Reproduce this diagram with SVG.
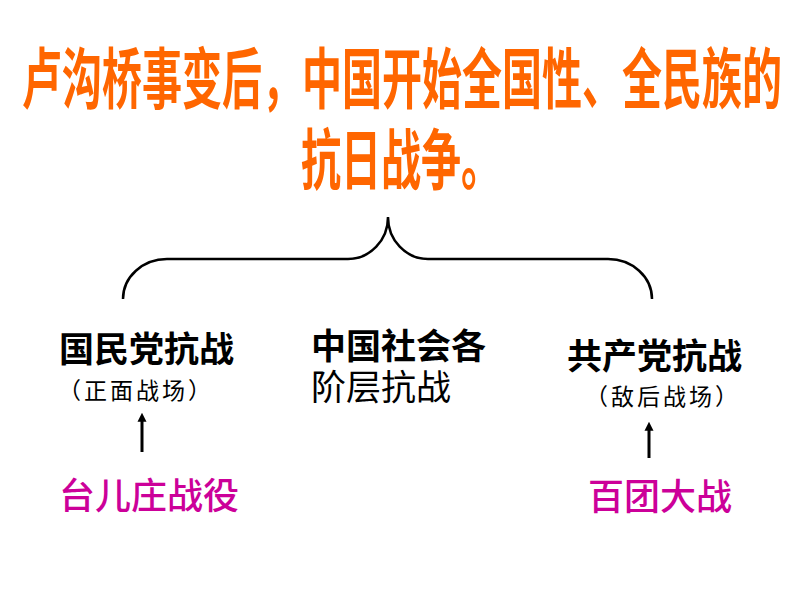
<svg xmlns="http://www.w3.org/2000/svg" width="800" height="600" viewBox="0 0 800 600">
<style>
.title{font-family:"Noto Sans CJK SC","Noto Sans CJK TC",sans-serif;font-weight:bold;font-size:66px;fill:#FF6600}
.main{font-family:"Noto Sans CJK SC",sans-serif;font-weight:bold;font-size:35px;fill:#000}
.reg{font-family:"Noto Sans CJK SC",sans-serif;font-weight:normal;font-size:35px;fill:#000}
.sub{font-family:"Noto Sans CJK SC",sans-serif;font-size:23px;letter-spacing:3px;fill:#000;text-anchor:middle}
.battle{font-family:"Noto Sans CJK SC",sans-serif;font-weight:500;font-size:36px;fill:#CC0099}
.conn{fill:none;stroke:#000;stroke-width:2.5}
.arrow{stroke:#000;stroke-width:3;marker-end:url(#ah)}
</style>
<defs>
<marker id="ah" viewBox="0 0 10 10" refX="2" refY="5" markerWidth="3" markerHeight="3.5" orient="auto" markerUnits="strokeWidth">
<path d="M0,0 L10,5 L0,10 Z" fill="#000"/>
</marker>
</defs>
<rect width="800" height="600" fill="#fff"/>
<g id="title">
<text class="title" x="22" y="103" textLength="760" lengthAdjust="spacingAndGlyphs">卢沟桥事变后，中国开始全国性、全民族的</text>
<text class="title" x="301" y="184" textLength="200" lengthAdjust="spacingAndGlyphs">抗日战争。</text>
</g>
<g id="connectors">
<path class="conn" d="M123,299 A44,40 0 0 1 167,259 L348,259 A40,42 0 0 0 388,217 A40,42 0 0 0 428,259 L608,259 A44,40 0 0 1 652,299"/>
<line class="arrow" x1="142" y1="452" x2="142" y2="420"/>
<line class="arrow" x1="649" y1="458" x2="649" y2="429"/>
</g>
<g id="kmt">
<text class="main" x="59" y="362">国民党抗战</text>
<text class="sub" x="136" y="399">（正面战场）</text>
</g>
<g id="all">
<text class="main" x="311" y="359">中国社会各</text>
<text class="reg" x="311" y="400">阶层抗战</text>
</g>
<g id="ccp">
<text class="main" x="567" y="369">共产党抗战</text>
<text class="sub" x="663" y="405">（敌后战场）</text>
</g>
<g id="taierzhuang">
<text class="battle" x="59" y="509">台儿庄战役</text>
</g>
<g id="baituan">
<text class="battle" x="588" y="510">百团大战</text>
</g>
</svg>
